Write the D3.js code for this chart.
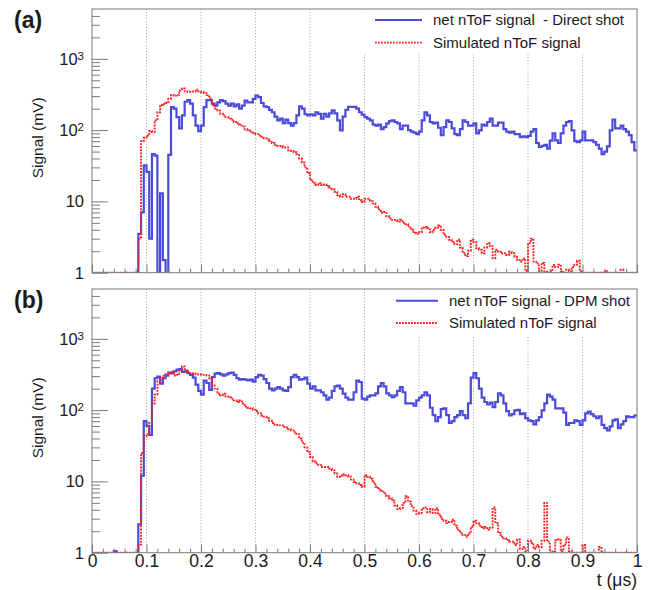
<!DOCTYPE html>
<html><head><meta charset="utf-8">
<script src="https://cdn.jsdelivr.net/npm/d3@7/dist/d3.min.js"></script>
<style>
body{margin:0;background:#fff}
svg{display:block}
text{font-family:"Liberation Sans",Arial,Helvetica,sans-serif;fill:#1a1a1a}
</style>
</head><body><svg id="c" width="654" height="590"></svg>
<script>
// ---- data (histogram bins of 0.005 µs from t = 0 to 1 µs), values in mV ----
const binWidth = 0.005;
const aBlue = [0,0,0,0,0,0,0,0,0,0,0,0,0,0,0,0,0,3.5,7,32,26,3,46,44,0,13,1.5,0,45,210,
200,152,106,161,250,263,235,161,116,97,116,210,263,263,235,221,245,263,255,235,
221,235,215,230,200,221,260,245,245,275,305,290,240,215,210,192,178,155,137,145,
125,140,125,116,125,161,215,200,167,161,167,161,178,169,145,169,155,172,189,172,
137,99,155,192,212,212,212,200,178,165,152,145,137,120,116,120,103,110,124,134,
137,130,124,103,116,116,100,95,92,88,95,137,178,161,130,124,127,108,85,110,
137,130,106,88,85,103,137,130,116,116,124,90,99,120,116,130,145,116,116,127,
127,103,95,92,95,88,88,80,82,80,83,95,103,66,58,60,62,55,71,90,
72,66,90,116,130,134,99,70,68,72,95,72,72,72,68,62,55,46,50,59,
99,140,106,106,116,103,95,85,68,52];
const aRed = [1,1,1,1,1,1,1,1,1,1,1,1,1,1,1,1,1,3,70,78,84,97,94,137,178,225,232,240,275,312,
305,312,360,385,350,345,345,350,370,350,340,330,310,280,225,200,188,170,161,152,
145,140,130,124,120,112,103,99,95,92,88,84,81,77,74,70,66,62,60,60,
57,57,52,51,49,46,40,35,30,25,20,18,17,18,16.9,17.3,16.3,15.6,14.7,13.6,
12.2,11.6,12.6,11.6,11.6,10.9,10.9,11.6,10.4,9.8,10.9,10.9,10.1,9.4,8.4,7.7,6.9,7.1,6.2,5.8,
5.5,5.5,5.2,5.5,5.0,4.8,4.4,4.0,3.6,3.5,3.7,4.3,4.4,4.2,3.7,4.0,4.3,4.6,4.0,3.4,
3.2,2.9,2.7,2.5,2.9,2.26,1.9,1.71,2.03,2.9,2.7,2.2,2.1,1.87,2.26,2.6,2.36,1.59,2.1,1.97,
1.87,1.87,1.77,1.97,1.87,1.67,1.5,1.43,1.59,1.05,2.6,3.0,1.43,1.35,1.05,1.37,1.03,1,1.05,1.28,
1.2,1.3,1.05,1,1.1,1.05,1.2,1.3,1.47,1.05,1,1,1,1,1,1,1,1,1.05,1,
1,1,1,1,1.1,1,1,1,1,1];
const bBlue = [0,0,0,0,0,0,0,0,1.05,0,0,0,0,0,0,0,0,2.5,12,70,60,45,200,280,295,235,280,305,335,330,
350,370,375,345,350,330,312,285,228,186,165,260,240,192,290,325,330,318,305,318,
330,335,312,280,268,272,268,262,268,250,290,312,305,272,240,200,189,200,210,200,
189,186,210,290,312,290,268,272,285,235,200,215,189,189,178,161,140,150,186,215,
221,200,170,150,140,140,178,260,248,145,140,155,161,161,172,215,240,215,172,161,
152,161,186,210,178,124,124,124,116,137,150,161,178,161,108,85,70,80,103,106,
85,66,70,80,85,97,85,77,124,285,330,280,200,150,130,120,127,110,130,172,
161,124,97,84,88,99,101,88,90,77,72,70,63,72,80,99,124,165,155,140,
106,106,106,92,62,66,66,72,70,62,72,90,95,88,82,77,82,62,56,52,
59,72,74,56,63,70,82,80,80,84];
const bRed = [1,1,1,1,1,1,1,1,1,1,1,1,1,1,1,1,1,1.3,25,43,46,66,124,165,255,280,305,318,325,345,
305,312,370,410,360,345,330,325,318,318,312,312,305,280,221,200,170,161,170,155,
150,145,137,130,137,124,112,108,106,101,97,90,84,81,77,71,66,62,61,61,
58,57,54,52,49,46,40,35,30,26,22,19,18,16.9,15.9,15.9,15.9,15.1,14.3,12.9,
11.6,12.1,12.6,12.2,11.6,10.6,9.8,9.4,8.9,8.4,12.2,11.6,10.9,9.6,8.4,7.7,7.4,6.8,6.2,5.8,
5.4,4.6,4.1,4.2,5.0,6.2,5.2,4.5,3.9,3.5,3.6,4.2,4.3,3.7,4.1,3.6,4.2,3.4,3.0,2.8,
2.6,2.7,2.9,2.4,2.1,1.9,1.77,1.67,1.87,2.3,2.8,2.6,2.4,2.2,2.3,2.1,2.25,4.3,2.6,1.9,
1.67,1.59,1.5,1.43,1.43,1.28,1.53,1.13,1.2,1.05,1.47,1.37,1.13,1.28,1.2,1.47,5.0,1.43,1,1.05,
1.5,1.53,1.05,1.3,1.63,1.05,1,1,1,1,1.28,1,1,1,1,1,1.2,1,1,1,
1,1,1,1,1,1,1,1,1,1];

const xMajor = [0,0.1,0.2,0.3,0.4,0.5,0.6,0.7,0.8,0.9,1];
const xTickLabels = ["0","0.1","0.2","0.3","0.4","0.5","0.6","0.7","0.8","0.9","1"];
const xMinor = [0.02,0.04,0.06,0.08,0.12,0.14,0.16,0.18,0.22,0.24,0.26,0.28,0.32,0.34,0.36,0.38,
0.42,0.44,0.46,0.48,0.52,0.54,0.56,0.58,0.62,0.64,0.66,0.68,0.72,0.74,0.76,0.78,
0.82,0.84,0.86,0.88,0.92,0.94,0.96,0.98];
const xGrid = [0.1,0.2,0.3,0.4,0.5,0.6,0.7,0.8,0.9];
const yMajor = [1,10,100,1000];
const yTickBase = ["1","10","10","10"];
const yTickExp = ["","","2","3"];
const yMinor = [2,3,4,5,6,7,8,9,20,30,40,50,60,70,80,90,200,300,400,500,600,700,800,900,2000,3000,4000];
const yDomain = [1,5000];
const xDomain = [0,1];
const legendA = ["net nToF signal  - Direct shot","Simulated nToF signal"];
const legendB = ["net nToF signal - DPM shot","Simulated nToF signal"];

// ---- layout ----
const L = 92, R = 637;
const panels = [
  {tag:"(a)", blue:aBlue, red:aRed, legend:legendA, top:9, bottom:272.7,
   legBox:[356,9.5,281,43.5], legLine:[375,422], legText:433, legY:[20,42.7], xLabels:false},
  {tag:"(b)", blue:bBlue, red:bRed, legend:legendB, top:289, bottom:552.7,
   legBox:[385,289.5,252,45.5], legLine:[396,438], legText:449, legY:[300.7,323], xLabels:true}
];
const BLUE = "#4a4adb", RED = "#ff1f1f", AX = "#7a7a7a";

const svg = d3.select("#c");
const x = d3.scaleLinear().domain(xDomain).range([L,R]);

panels.forEach((p,pi)=>{
  const y = d3.scaleLog().domain(yDomain).range([p.bottom,p.top]);
  const g = svg.append("g");
  const clipId = "clip"+pi;
  svg.append("clipPath").attr("id",clipId).append("rect")
    .attr("x",L).attr("y",p.top).attr("width",R-L).attr("height",p.bottom-p.top);

  // grid
  g.selectAll(".grid").data(xGrid).join("line")
    .attr("x1",d=>x(d)).attr("x2",d=>x(d)).attr("y1",p.top).attr("y2",p.bottom)
    .attr("stroke","#a8a8a8").attr("stroke-width",0.9).attr("stroke-dasharray","1.2,1.8");

  // histograms
  const line = d3.line().x(d=>x(d[0])).y(d=>y(Math.max(d[1],0.8))).curve(d3.curveStepAfter);
  const toPts = vals => { const pts = vals.map((v,i)=>[i*binWidth,v]); pts.push([xDomain[1],vals[vals.length-1]]); return pts; };
  const hg = g.append("g").attr("clip-path",`url(#${clipId})`);
  hg.append("path").attr("d",line(toPts(p.blue))).attr("fill","none")
    .attr("stroke",BLUE).attr("stroke-width",2.2).attr("stroke-linejoin","miter");
  hg.append("path").attr("d",line(toPts(p.red))).attr("fill","none")
    .attr("stroke",RED).attr("stroke-width",1.9).attr("stroke-dasharray","1.9,1.2");

  // legend box (white, covers grid)
  const lg = g.append("g");
  lg.append("rect").attr("x",p.legBox[0]).attr("y",p.legBox[1]).attr("width",p.legBox[2]).attr("height",p.legBox[3]).attr("fill","#fff");
  lg.append("line").attr("x1",p.legLine[0]).attr("x2",p.legLine[1]).attr("y1",p.legY[0]).attr("y2",p.legY[0])
    .attr("stroke",BLUE).attr("stroke-width",2);
  lg.append("line").attr("x1",p.legLine[0]).attr("x2",p.legLine[1]).attr("y1",p.legY[1]).attr("y2",p.legY[1])
    .attr("stroke",RED).attr("stroke-width",1.8).attr("stroke-dasharray","1.8,1.2");
  p.legend.forEach((t,i)=>{
    lg.append("text").attr("x",p.legText).attr("y",p.legY[i]).attr("dy","0.35em")
      .attr("font-size",15).style("white-space","pre").text(t);
  });

  // frame
  g.append("rect").attr("x",L).attr("y",p.top).attr("width",R-L).attr("height",p.bottom-p.top)
    .attr("fill","none").attr("stroke",AX).attr("stroke-width",1);

  // x ticks (pointing up)
  const xa = g.append("g").attr("transform",`translate(0,${p.bottom})`);
  xa.call(d3.axisBottom(x).tickValues(xMajor).tickSize(-8).tickPadding(1.5)
      .tickFormat((d,i)=> p.xLabels ? xTickLabels[i] : ""));
  xa.select(".domain").remove();
  xa.selectAll("line").attr("stroke",AX);
  xa.selectAll("text").attr("font-size",17.5).attr("fill","#1a1a1a")
    .attr("font-family","'Liberation Sans',Arial,sans-serif");
  const xm = g.append("g").attr("transform",`translate(0,${p.bottom})`);
  xm.call(d3.axisBottom(x).tickValues(xMinor).tickSize(-4).tickFormat(""));
  xm.select(".domain").remove();
  xm.selectAll("line").attr("stroke",AX);

  // y ticks (pointing right)
  const ya = g.append("g").attr("transform",`translate(${L},0)`);
  ya.call(d3.axisLeft(y).tickValues(yMajor).tickSize(-16).tickFormat(""));
  ya.select(".domain").remove();
  ya.selectAll("line").attr("stroke",AX);
  const ym = g.append("g").attr("transform",`translate(${L},0)`);
  ym.call(d3.axisLeft(y).tickValues(yMinor).tickSize(-8).tickFormat(""));
  ym.select(".domain").remove();
  ym.selectAll("line").attr("stroke",AX);

  // y tick labels with superscripts
  yMajor.forEach((v,i)=>{
    const t = g.append("text").attr("x",84).attr("y",y(v)).attr("dy","0.36em")
      .attr("text-anchor","end").attr("font-size",16.5);
    t.append("tspan").text(yTickBase[i]);
    if (yTickExp[i]) t.append("tspan").attr("dy","-0.45em").attr("font-size",11.5).text(yTickExp[i]);
  });

  // y axis title
  g.append("text").attr("transform",`translate(38,${(p.top+p.bottom)/2 - 3}) rotate(-90)`)
    .attr("text-anchor","middle").attr("dy","0.35em").attr("font-size",15.5).text("Signal (mV)");

  // panel tag
  g.append("text").attr("x",14).attr("y",p.top+19).attr("font-size",23).attr("font-weight","bold")
    .attr("fill","#1a1208").text(p.tag);
});

// x axis title
svg.append("text").attr("x",R).attr("y",580).attr("dy","0.35em").attr("text-anchor","end")
  .attr("font-size",17.5).text("t (\u03bcs)");
</script>
</body></html>
